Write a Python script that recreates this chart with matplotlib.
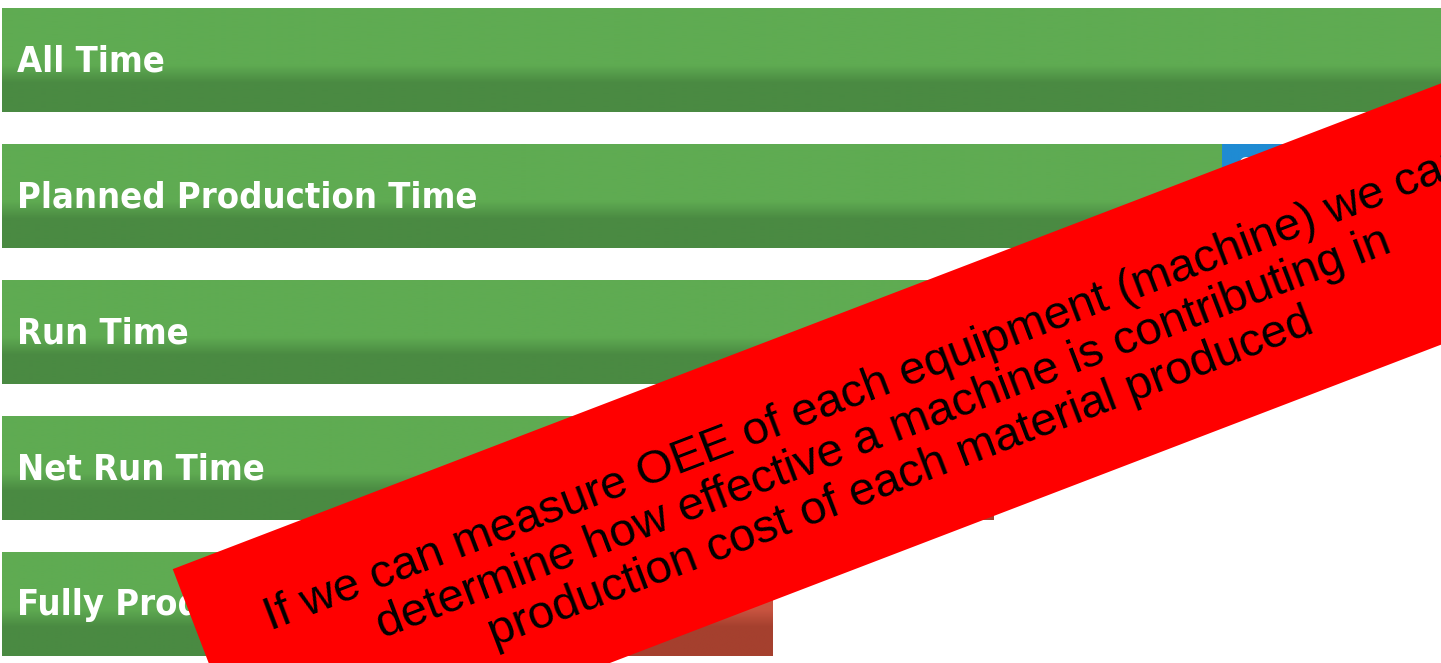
import numpy as np
import matplotlib
matplotlib.use("Agg")
import matplotlib.pyplot as plt
from matplotlib import font_manager as fm
from matplotlib.colors import LinearSegmentedColormap
from matplotlib.patches import Rectangle

# OEE time breakdown, as % of all time
rows = ["All Time", "Planned Production Time", "Run Time",
        "Net Run Time", "Fully Productive Time"]
good = [100.0, 84.8, 68.9, 53.5, 41.6]      # green part
total = [100.0, 100.0, 84.8, 68.9, 53.5]    # green + loss
loss_labels = ["", "Schedule\nLoss", "", "", ""]

note = ("If we can measure OEE of each equipment (machine) we can\n"
        "determine how effective a machine is contributing in\n"
        "production cost of each material produced")

W, H = 1441, 663
fig = plt.figure(figsize=(W / 100, H / 100), dpi=100)
fig.patch.set_facecolor("white")

# pick a narrow bold face for the bar labels if one is installed
narrow = [f.name for f in fm.fontManager.ttflist
          if "Narrow" in f.name or "Condensed" in f.name
          or f.stretch in ("condensed", "semi-condensed")]
label_font = narrow[:1] + ["Roboto", "DejaVu Sans"]
label_size = 26 if narrow else 24

# bars axis: x in %, y in pixel rows (inverted)
ax = fig.add_axes([2 / W, 0, (W - 2) / W, 1])
ax.axis("off")


def grad_cmap(top, bottom):
    return LinearSegmentedColormap.from_list(
        "g", [(0, top), (0.55, top), (0.72, bottom), (1, bottom)])


green = grad_cmap("#5fab52", "#4a8a42")
blue = grad_cmap("#1f8bd3", "#1a76b6")
red = grad_cmap("#c95541", "#a5402e")

grad = np.linspace(0, 1, 200).reshape(-1, 1)
row_h = 104
row_gap = 136

for i, name in enumerate(rows):
    top = 8 + i * row_gap
    bot = top + row_h
    ax.imshow(grad, cmap=green, extent=(0, good[i], bot, top),
              aspect="auto", interpolation="bilinear", zorder=1)
    if total[i] > good[i]:
        cm = blue if i == 1 else red
        ax.imshow(grad, cmap=cm, extent=(good[i], total[i], bot, top),
                  aspect="auto", interpolation="bilinear", zorder=1)
        if loss_labels[i]:
            ax.text(good[i] + 1.0, (top + bot) / 2 - 12, loss_labels[i],
                    color="white", fontsize=21, fontweight="bold",
                    family=label_font, fontstretch="condensed",
                    ha="left", va="center", linespacing=1.0, zorder=2)
    ax.text(1.05, (top + bot) / 2 + 1, name, color="white",
            fontsize=label_size, fontweight="bold", family=label_font,
            fontstretch="condensed", ha="left", va="center", zorder=2)

ax.set_xlim(0, 100)
ax.set_ylim(H, 0)

# red banner overlay, pixel coords with y up
ov = fig.add_axes([0, 0, 1, 1])
ov.set_xlim(0, W)
ov.set_ylim(0, H)
ov.axis("off")
ov.patch.set_alpha(0)

angle = np.degrees(np.arctan(0.383))
ov.add_patch(Rectangle((260, -134), 2200, 244, angle=angle,
                       facecolor="#ff0000", edgecolor="none", zorder=3))
ov.text(884, H - 434, note, rotation=angle, rotation_mode="anchor",
        ha="center", va="center", multialignment="center",
        fontsize=34, family=["Liberation Sans", "DejaVu Sans"],
        color="black", linespacing=1.11, zorder=4)

fig.savefig("out.png", dpi=100)
